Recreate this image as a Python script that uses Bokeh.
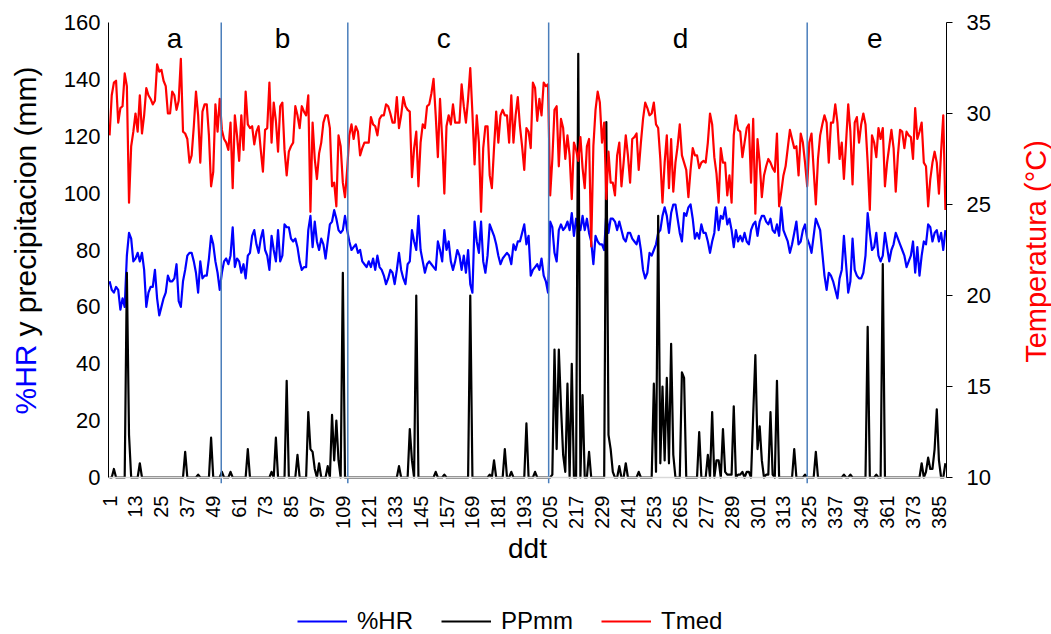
from math import pi
from bokeh.plotting import figure
from bokeh.models import (Range1d, LinearAxis, FixedTicker, Label,
                          Legend, LegendItem)
from bokeh.embed import file_html
from bokeh.resources import INLINE

# ---------------- data ----------------
hr = [
    69, 66, 65, 67, 66, 59, 63, 60, 78, 86,
    84, 76, 77, 79, 76, 79, 73, 60, 65, 67,
    67, 73, 63, 57, 60, 63, 65, 71, 69, 69,
    70, 75, 62, 60, 69, 73, 78, 79, 79, 76,
    72, 65, 76, 70, 71, 71, 77, 85, 82, 76,
    72, 66, 72, 76, 77, 75, 78, 88, 74, 77,
    76, 72, 75, 70, 78, 79, 85, 87, 82, 79,
    84, 87, 80, 78, 73, 85, 80, 76, 87, 76,
    78, 89, 88, 88, 84, 83, 84, 81, 76, 73,
    74, 74, 87, 92, 81, 90, 83, 80, 84, 82,
    77, 83, 89, 90, 94, 91, 87, 86, 87, 92,
    87, 83, 80, 81, 82, 79, 80, 76, 75, 74,
    76, 74, 77, 73, 78, 74, 73, 71, 68, 70,
    73, 72, 68, 73, 79, 73, 70, 68, 75, 76,
    87, 83, 80, 92, 80, 76, 72, 75, 76, 75,
    74, 73, 83, 80, 76, 87, 80, 83, 76, 73,
    76, 80, 78, 73, 78, 72, 80, 68, 65, 90,
    83, 79, 90, 76, 72, 78, 89, 87, 85, 82,
    78, 75, 77, 78, 79, 78, 75, 82, 80, 83,
    83, 86, 89, 82, 85, 71, 73, 74, 75, 73,
    77, 71, 69, 65, 90, 88, 79, 76, 87, 89,
    87, 88, 90, 87, 93, 85, 91, 87, 87, 92,
    87, 91, 86, 83, 75, 85, 83, 82, 82, 80,
    93, 86, 91, 91, 90, 87, 90, 87, 84, 83,
    86, 86, 84, 83, 82, 85, 80, 73, 70, 72,
    79, 78, 80, 82, 86, 87, 92, 95, 92, 86,
    93, 96, 96, 91, 86, 83, 93, 92, 95, 96,
    91, 84, 86, 84, 89, 86, 86, 83, 79, 83,
    86, 95, 87, 92, 91, 95, 89, 91, 87, 81,
    87, 83, 85, 83, 86, 83, 82, 87, 89, 90,
    85, 90, 92, 92, 90, 89, 91, 87, 86, 89,
    85, 95, 87, 85, 83, 79, 82, 86, 90, 82,
    83, 87, 89, 84, 82, 79, 85, 91, 89, 87,
    79, 71, 66, 72, 71, 69, 66, 63, 70, 73,
    85, 75, 65, 69, 84, 73, 71, 70, 70, 72,
    78, 93, 86, 80, 81, 86, 78, 76, 78, 86,
    81, 76, 80, 82, 86, 84, 82, 80, 78, 74,
    76, 78, 83, 72, 81, 71, 78, 83, 82, 89,
    88, 83, 86, 87, 83, 86, 80, 87,
]

tmed = [
    28.8, 31.0, 31.7, 31.8, 29.5, 30.3, 30.4, 32.2, 31.5, 25.1,
    28.2, 29.0, 30.0, 29.0, 31.0, 28.9, 29.9, 31.4, 31.0, 30.8,
    30.5, 30.7, 32.7, 32.3, 32.4, 31.8, 31.5, 30.0, 30.0, 31.2,
    31.0, 30.2, 30.7, 33.0, 29.0, 28.9, 28.6, 27.3, 27.7, 29.3,
    31.2, 29.9, 27.3, 30.1, 30.5, 30.5, 28.8, 26.0, 26.8, 30.5,
    29.0, 30.8, 29.1, 28.6, 28.4, 28.0, 29.5, 25.9, 29.9, 28.8,
    27.4, 29.9, 28.0, 31.2, 29.4, 29.2, 29.3, 28.3, 29.0, 29.3,
    28.0, 26.8, 29.1, 29.2, 31.7, 28.4, 30.6, 29.6, 27.9, 30.4,
    30.6, 28.0, 26.6, 27.9, 28.2, 28.4, 30.4, 29.9, 29.2, 30.4,
    30.1, 29.9, 31.0, 24.6, 29.5, 27.5, 26.4, 27.8, 28.4, 29.5,
    29.9, 29.9, 29.2, 26.0, 26.2, 24.9, 28.8, 28.2, 26.2, 25.4,
    26.9, 28.8, 29.4, 28.6, 29.3, 29.0, 27.7, 28.1, 28.4, 28.4,
    28.4, 29.8, 29.4, 29.3, 28.8, 29.7, 29.9, 29.9, 30.5, 30.4,
    30.0, 29.5, 29.5, 30.9, 29.2, 29.9, 30.9, 30.4, 30.2, 30.1,
    26.5, 28.1, 29.0, 26.0, 28.4, 29.4, 29.2, 30.4, 30.5, 31.1,
    31.9, 29.9, 27.6, 30.8, 28.6, 25.6, 29.3, 29.9, 29.4, 30.5,
    29.5, 29.5, 29.5, 31.6, 30.4, 29.5, 30.8, 32.5, 30.0, 27.2,
    29.9, 28.4, 24.6, 28.1, 29.3, 29.3, 26.6, 25.9, 28.1, 30.1,
    28.4, 29.9, 30.2, 29.9, 29.9, 28.4, 31.0, 28.4, 29.9, 30.9,
    29.3, 28.2, 26.9, 29.2, 29.0, 28.1, 31.7, 31.4, 29.6, 30.8,
    29.9, 31.7, 31.5, 31.6, 25.5, 27.5, 30.2, 30.4, 27.1, 29.7,
    29.2, 27.5, 28.8, 27.7, 25.3, 28.4, 28.0, 27.4, 28.7, 27.0,
    25.9, 28.2, 28.6, 22.7, 28.2, 30.2, 31.2, 30.6, 28.4, 29.5,
    25.3, 27.9, 26.2, 26.2, 25.5, 27.7, 28.4, 26.0, 27.3, 28.8,
    27.7, 26.2, 28.6, 28.7, 28.9, 26.9, 28.4, 29.7, 30.6, 30.3,
    29.9, 30.0, 30.6, 29.4, 29.2, 27.5, 25.1, 27.3, 28.8, 25.9,
    28.6, 25.7, 27.3, 28.2, 29.4, 27.7, 27.3, 26.9, 25.4, 26.9,
    28.1, 27.7, 27.7, 27.0, 27.3, 27.4, 27.3, 28.4, 30.0, 29.4,
    27.6, 26.7, 25.1, 28.1, 27.3, 27.3, 25.5, 26.6, 25.1, 28.8,
    29.9, 29.1, 29.0, 27.6, 28.4, 29.2, 29.4, 26.2, 29.7, 24.5,
    28.6, 27.3, 25.4, 26.6, 27.1, 27.5, 27.3, 27.0, 26.8, 28.9,
    24.9, 25.7, 26.6, 27.1, 28.1, 29.1, 28.6, 28.1, 28.2, 26.6,
    28.9, 28.4, 27.3, 26.0, 28.4, 28.9, 26.9, 25.0, 27.5, 28.8,
    29.4, 29.9, 29.5, 27.3, 29.5, 29.5, 30.5, 29.5, 27.5, 28.4,
    26.4, 28.4, 30.5, 29.0, 26.1, 29.5, 29.8, 28.4, 29.4, 30.0,
    29.4, 27.3, 24.7, 28.8, 28.4, 27.6, 29.2, 28.6, 29.2, 26.0,
    27.3, 28.2, 29.1, 28.1, 25.7, 27.7, 29.1, 29.0, 28.1, 29.0,
    28.8, 28.7, 27.5, 30.3, 28.6, 29.0, 29.5, 27.3, 27.1, 24.9,
    26.4, 27.3, 27.9, 27.3, 25.6, 27.9, 29.9, 24.7,
]

# rainy days (all other days are 0 mm)
pp_days = [3, 9, 10, 15, 36, 42, 48, 53, 57, 65, 76, 78, 83, 88, 93, 94, 95, 96,
           98, 102, 104, 105, 106, 107, 109, 135, 140, 141, 143, 152, 156, 168,
           177, 179, 184, 187, 194, 198, 206, 207, 208, 209, 210, 211, 212, 213,
           215, 218, 220, 223, 231, 232, 233, 234, 237, 240, 246, 253, 254, 255,
           256, 257, 258, 259, 260, 261, 262, 266, 267, 274, 278, 280, 282, 283,
           285, 286, 287, 288, 289, 290, 292, 293, 294, 296, 297, 299, 300, 301,
           302, 303, 305, 306, 307, 308, 310, 318, 323, 328, 341, 344, 352, 356,
           359, 377, 379, 380, 381, 382, 383, 384, 385, 388]
pp_vals = [3, 72, 15, 5, 9, 1, 14, 2, 2, 10, 2, 14, 34, 8, 23, 10, 9, 3,
           5, 4, 22, 6, 20, 6, 72, 4, 17, 6, 64, 2, 1, 64,
           1, 6, 10, 2, 19, 2, 1, 45, 10, 45, 25, 8, 2, 33,
           40, 149, 29, 9, 125, 15, 10, 2, 4, 5, 2, 33, 2, 92,
           5, 32, 6, 35, 5, 47, 8, 37, 35, 16, 8, 23, 6, 6,
           17, 2, 1, 1, 1, 25, 1, 1, 2, 2, 2, 22, 43, 10,
           18, 6, 1, 1, 23, 1, 34, 10, 1, 9, 1, 1, 53, 1,
           75, 5, 2, 7, 3, 3, 10, 24, 6, 5]

x_ticks = list(range(1, 386, 12))
left_ticks = [0, 20, 40, 60, 80, 100, 120, 140, 160]
right_ticks = [10, 15, 20, 25, 30, 35]
left_limits = (0, 160)
right_limits = (10, 35)
section_bounds = [52.7, 111.3, 204.3, 324.0]
section_names = ["a", "b", "c", "d", "e"]
section_name_x = [31.1, 81.1, 155.7, 265.3, 355.3]
section_name_y = 154.5

# ---------------- layout geometry (pixels) ----------------
W, H = 1051, 634
PL, PR, PT, PB = 108, 946, 22, 477     # plot area edges in the picture

n_days = max(len(hr), len(tmed))
pp = [0.0] * n_days
for d, v in zip(pp_days, pp_vals):
    pp[d - 1] = v

# ranges stretched so that the data area sits at PL..PR / PT..PB while the
# frame covers the whole canvas (texts outside the data area stay visible)
kx = (PR - PL) / n_days
x0 = 0.5 - PL / kx
x1 = 0.5 + (W - PL) / kx
ky = (PB - PT) / (left_limits[1] - left_limits[0])
y0 = left_limits[0] - (H - PB) / ky
y1 = left_limits[1] + PT / ky
kt = (PB - PT) / (right_limits[1] - right_limits[0])
t0 = right_limits[0] - (H - PB) / kt
t1 = right_limits[1] + PT / kt

FONT = "Liberation Sans"

p = figure(width=W, height=H, output_backend="svg", toolbar_location=None,
           title=None, x_range=Range1d(x0, x1), y_range=Range1d(y0, y1),
           min_border=0, min_border_left=0, min_border_right=0,
           min_border_top=0, min_border_bottom=0)
p.extra_y_ranges = {"temp": Range1d(t0, t1)}
p.outline_line_color = None
p.grid.visible = False
p.background_fill_color = "white"
p.border_fill_color = "white"

xa = p.xaxis[0]
xa.fixed_location = left_limits[0]
xa.bounds = (0.5, n_days + 0.5)
xa.ticker = FixedTicker(ticks=x_ticks)
xa.major_label_orientation = pi / 2
xa.major_tick_line_color = None
xa.minor_tick_line_color = None
xa.axis_line_color = "#D9D9D9"
xa.axis_line_width = 1.5
xa.major_label_text_font = FONT
xa.major_label_text_font_size = "20px"
xa.major_label_text_color = "black"
xa.major_label_standoff = 12
xa.axis_label = "ddt"
xa.axis_label_text_font = FONT
xa.axis_label_text_font_size = "28px"
xa.axis_label_text_font_style = "normal"
xa.axis_label_text_color = "black"
xa.axis_label_standoff = 1

ya = p.yaxis[0]
ya.fixed_location = 0.5
ya.bounds = left_limits
ya.ticker = FixedTicker(ticks=left_ticks)
ya.major_tick_out = 0
ya.major_tick_in = 0
ya.minor_tick_line_color = None
ya.axis_line_color = "black"
ya.major_label_text_font = FONT
ya.major_label_text_font_size = "22px"
ya.major_label_text_color = "black"
ya.major_label_standoff = 8

ra = LinearAxis(y_range_name="temp", ticker=FixedTicker(ticks=right_ticks),
                fixed_location=n_days + 0.5, bounds=right_limits)
ra.major_tick_out = 6
ra.major_tick_in = 0
ra.minor_tick_line_color = None
ra.axis_line_color = "black"
ra.major_tick_line_color = "black"
ra.major_label_text_font = FONT
ra.major_label_text_font_size = "22px"
ra.major_label_text_color = "black"
ra.major_label_standoff = 14
p.add_layout(ra, "right")

days = list(range(1, n_days + 1))
r_hr = p.line(days[:len(hr)], hr, line_color="#0000FF", line_width=2.2,
              line_join="round")
r_pp = p.line(days, pp, line_color="black", line_width=2.2, line_join="round")
r_t = p.line(days[:len(tmed)], tmed, y_range_name="temp", line_color="#FF0000",
             line_width=2.2, line_join="round")

# section separators
p.segment(x0=section_bounds, y0=[left_limits[0] - 2] * len(section_bounds),
          x1=section_bounds, y1=[left_limits[1]] * len(section_bounds),
          line_color="#4A7EBB", line_width=1.5)

for name, lx in zip(section_names, section_name_x):
    p.add_layout(Label(x=lx, y=section_name_y, text=name, text_align="center",
                       text_baseline="alphabetic", text_font=FONT,
                       text_font_size="28px", text_color="black"))

# left axis title in two colours (screen units from the bottom-left corner)
p.add_layout(Label(x=25, y=H - 414, x_units="screen", y_units="screen",
                   text="%HR", angle=pi / 2, text_align="left",
                   text_baseline="middle", text_font=FONT,
                   text_font_size="30px", text_color="#0000FF"))
p.add_layout(Label(x=25, y=H - 414 + 78, x_units="screen", y_units="screen",
                   text="y precipitacion (mm)", angle=pi / 2, text_align="left",
                   text_baseline="middle", text_font=FONT,
                   text_font_size="30px", text_color="black"))
# right axis title
p.add_layout(Label(x=1035, y=H - 251, x_units="screen", y_units="screen",
                   text="Temperatura (°C)", angle=pi / 2, text_align="center",
                   text_baseline="middle", text_font=FONT,
                   text_font_size="29px", text_color="#FF0000"))

legend = Legend(items=[LegendItem(label="%HR", renderers=[r_hr]),
                       LegendItem(label="PPmm", renderers=[r_pp]),
                       LegendItem(label="Tmed", renderers=[r_t])],
                orientation="horizontal", location=(297, -1),
                glyph_width=50, glyph_height=20, label_standoff=10, spacing=28,
                padding=0, margin=0, border_line_color=None,
                background_fill_alpha=0, label_text_font=FONT,
                label_text_font_size="24px", label_text_color="black")
p.add_layout(legend)

open("out.html", "w").write(file_html(p, INLINE))
